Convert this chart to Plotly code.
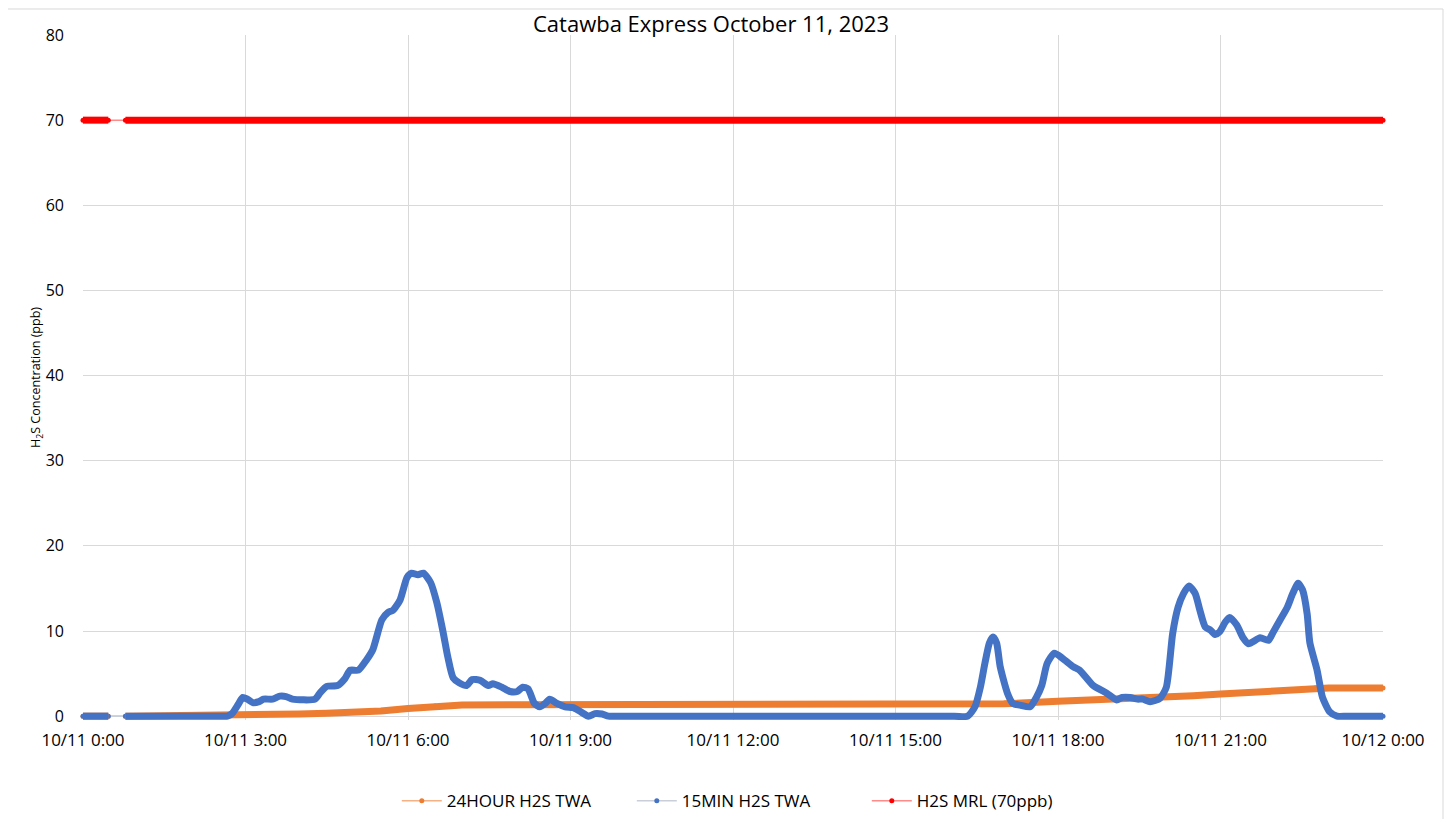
import plotly.graph_objects as go

DAY = "2023-10-11 "
NEXT = "2023-10-12 "

# 15-minute H2S TWA (ppb); None marks the missing-data gap
t15 = ["00:00", "00:28", "00:37", "00:47", "02:30", "02:40", "02:45", "02:52", "02:57", "03:02", "03:08",
       "03:15", "03:20", "03:30", "03:38", "03:45", "03:52", "04:17", "04:23", "04:30", "04:42",
       "04:50", "04:56", "05:05", "05:14", "05:21", "05:31", "05:38", "05:43", "05:51", "05:59",
       "06:04", "06:11", "06:17", "06:25", "06:32", "06:39", "06:44", "06:50", "06:57", "07:05",
       "07:11", "07:20", "07:29", "07:34", "07:44", "07:53", "08:01", "08:07", "08:13", "08:20",
       "08:26", "08:32", "08:37", "08:45", "08:54", "09:03", "09:10", "09:20", "09:27", "09:35",
       "09:42", "09:55", "16:05", "16:20", "16:28", "16:34", "16:39", "16:44", "16:48", "16:52", "16:56", "17:04",
       "17:10", "17:18", "17:29", "17:36", "17:42", "17:48", "17:56", "18:05", "18:17", "18:24",
       "18:39", "18:54", "19:05", "19:11", "19:20", "19:28", "19:34", "19:42", "19:53", "20:00",
       "20:07", "20:13", "20:19", "20:25", "20:32", "20:37", "20:43", "20:49", "20:54", "20:59",
       "21:05", "21:10", "21:18", "21:25", "21:31", "21:44", "21:53", "21:58", "22:06", "22:14",
       "22:20", "22:26", "22:31", "22:36", "22:39", "22:47", "22:53", "23:01", "23:09", "23:20", "24:00"]
v15 = [0, 0, None, 0, 0, 0, 0.3, 1.4, 2.2, 2.0, 1.6,
       1.7, 2.0, 2.0, 2.35, 2.3, 2.0, 2.0, 2.8, 3.5, 3.6,
       4.4, 5.4, 5.4, 6.6, 7.8, 11.3, 12.2, 12.4, 13.6, 16.3,
       16.8, 16.6, 16.8, 15.7, 13.3, 9.8, 7.0, 4.5, 3.9, 3.6,
       4.3, 4.2, 3.6, 3.8, 3.4, 2.9, 2.9, 3.4, 3.2, 1.5,
       1.1, 1.5, 2.0, 1.5, 1.1, 1.0, 0.6, 0.0, 0.3, 0.25,
       0.0, 0.0, 0.0, 0.0, 1.1, 3.4, 6.2, 8.6, 9.3, 8.6, 5.8, 2.7,
       1.5, 1.3, 1.1, 2.2, 3.6, 6.2, 7.4, 6.8, 5.8, 5.4,
       3.6, 2.7, 1.9, 2.2, 2.2, 2.0, 2.0, 1.7, 2.1, 3.4,
       9.7, 12.8, 14.4, 15.3, 14.4, 12.5, 10.5, 10.1, 9.6, 9.9,
       11.0, 11.6, 10.7, 9.2, 8.5, 9.2, 8.9, 9.8, 11.3, 12.8,
       14.4, 15.6, 14.8, 12.0, 8.6, 5.4, 2.2, 0.5, 0.0, 0.0, 0.0]

# 24-hour H2S TWA (ppb)
t24 = ["00:00", "00:28", "00:37", "00:47", "02:40", "03:00", "03:30", "04:00", "04:30", "05:00",
       "05:30", "06:00", "06:30", "07:00", "08:00", "16:30", "17:00", "18:00", "19:00", "19:50",
       "20:30", "21:00", "22:00", "22:45", "23:00", "24:00"]
v24 = [0, 0, None, 0, 0.05, 0.15, 0.2, 0.25, 0.35, 0.45,
       0.6, 0.9, 1.2, 1.3, 1.35, 1.35, 1.45, 1.75, 1.95, 2.1,
       2.4, 2.6, 2.95, 3.3, 3.3, 3.3]

# H2S MRL (ppb)
tmrl = ["00:00", "00:28", "00:37", "00:47", "24:00"]
vmrl = [70, 70, None, 70, 70]

x_ticks = ["00:00", "03:00", "06:00", "09:00", "12:00", "15:00", "18:00", "21:00", "24:00"]
y_ticks = [0, 10, 20, 30, 40, 50, 60, 70, 80]


def ts(t):
    return NEXT + "00:00" if t == "24:00" else DAY + t


FONT = "Open Sans"
fig = go.Figure()

series = [
    ("24HOUR H2S TWA", t24, v24, "#ED7D31", "#F4B183", "linear"),
    ("15MIN H2S TWA", t15, v15, "#4472C4", "#C9CED8", "spline"),
    ("H2S MRL (70ppb)", tmrl, vmrl, "#FF0000", "#FF8A8A", "linear"),
]

# thin connecting lines (with legend entries)
for name, t, v, col, light, shape in series:
    fig.add_trace(go.Scatter(
        x=[ts(a) for a in t], y=v, name=name, mode="lines+markers",
        connectgaps=True, cliponaxis=False,
        line=dict(color=light, width=1.5, shape=shape, smoothing=0.6),
        marker=dict(color=col, size=5),
        showlegend=True,
    ))
# thick marker-like strokes
for name, t, v, col, light, shape in series:
    fig.add_trace(go.Scatter(
        x=[ts(a) for a in t], y=v, name=name, mode="lines",
        connectgaps=False, cliponaxis=False,
        line=dict(color=col, width=7, shape=shape, smoothing=0.6),
        showlegend=False, hoverinfo="skip",
    ))

# the page body has an 8px margin: work in page pixels, convert to figure pixels
OFF = 8
W, H = 1452 - 2 * OFF, 827 - 2 * OFF
L, R, T = 83 - OFF, 1383 - OFF, 35 - OFF
Y0 = 716 - OFF                # figure row of value 0
YMIN, YMAX = -0.45, 80
ppu = (Y0 - T) / YMAX         # pixels per ppb
B = Y0 + (0 - YMIN) * ppu     # plot bottom in figure px
pw, ph = R - L, B - T


def py(p):                    # page row -> paper y
    return (B - (p - OFF)) / ph


def px(p):                    # page column -> paper x
    return ((p - OFF) - L) / pw


fig.update_layout(
    width=W, height=H,
    margin=dict(l=L, r=W - R, t=T, b=H - B, autoexpand=False),
    paper_bgcolor="white", plot_bgcolor="white",
    font=dict(family=FONT, color="#000000", size=16),
    title=dict(text="Catawba Express October 11, 2023", x=px(711), xref="paper",
               xanchor="center", y=1 - (24 - OFF) / H, yref="container", yanchor="middle",
               font=dict(family=FONT, size=22, color="#000000")),
    legend=dict(orientation="h", x=px(402) - 0.004, xanchor="left",
                y=py(801), yanchor="middle", font=dict(size=17, family=FONT),
                itemwidth=40, entrywidth=180, entrywidthmode="pixels",
                bgcolor="rgba(0,0,0,0)"),
    showlegend=True,
    shapes=[dict(type="rect", xref="paper", yref="paper",
                 x0=px(7), x1=px(1443), y0=py(826), y1=py(9),
                 line=dict(color="#D9D9D9", width=1), fillcolor="rgba(0,0,0,0)", layer="below")],
)

fig.update_xaxes(
    type="date", range=[ts("00:00"), ts("24:00")],
    tickvals=[ts(a) for a in x_ticks], tickformat="%-m/%-d %-H:%M",
    showgrid=True, gridcolor="#D9D9D9", gridwidth=1,
    showline=False, zeroline=False, ticks="", ticklabelstandoff=8,
    tickfont=dict(size=17, family=FONT), automargin=False,
)
fig.update_yaxes(
    range=[YMIN, YMAX], tickvals=y_ticks,
    showgrid=True, gridcolor="#D9D9D9", gridwidth=1,
    zeroline=True, zerolinecolor="#D9D9D9", zerolinewidth=1,
    showline=False, ticks="", ticklabelstandoff=18,
    tickfont=dict(size=16, family=FONT), automargin=False,
    title=dict(text="H<sub>2</sub>S Concentration (ppb)", standoff=0,
               font=dict(size=12.5, family=FONT)),
)

fig.write_html("out.html")
